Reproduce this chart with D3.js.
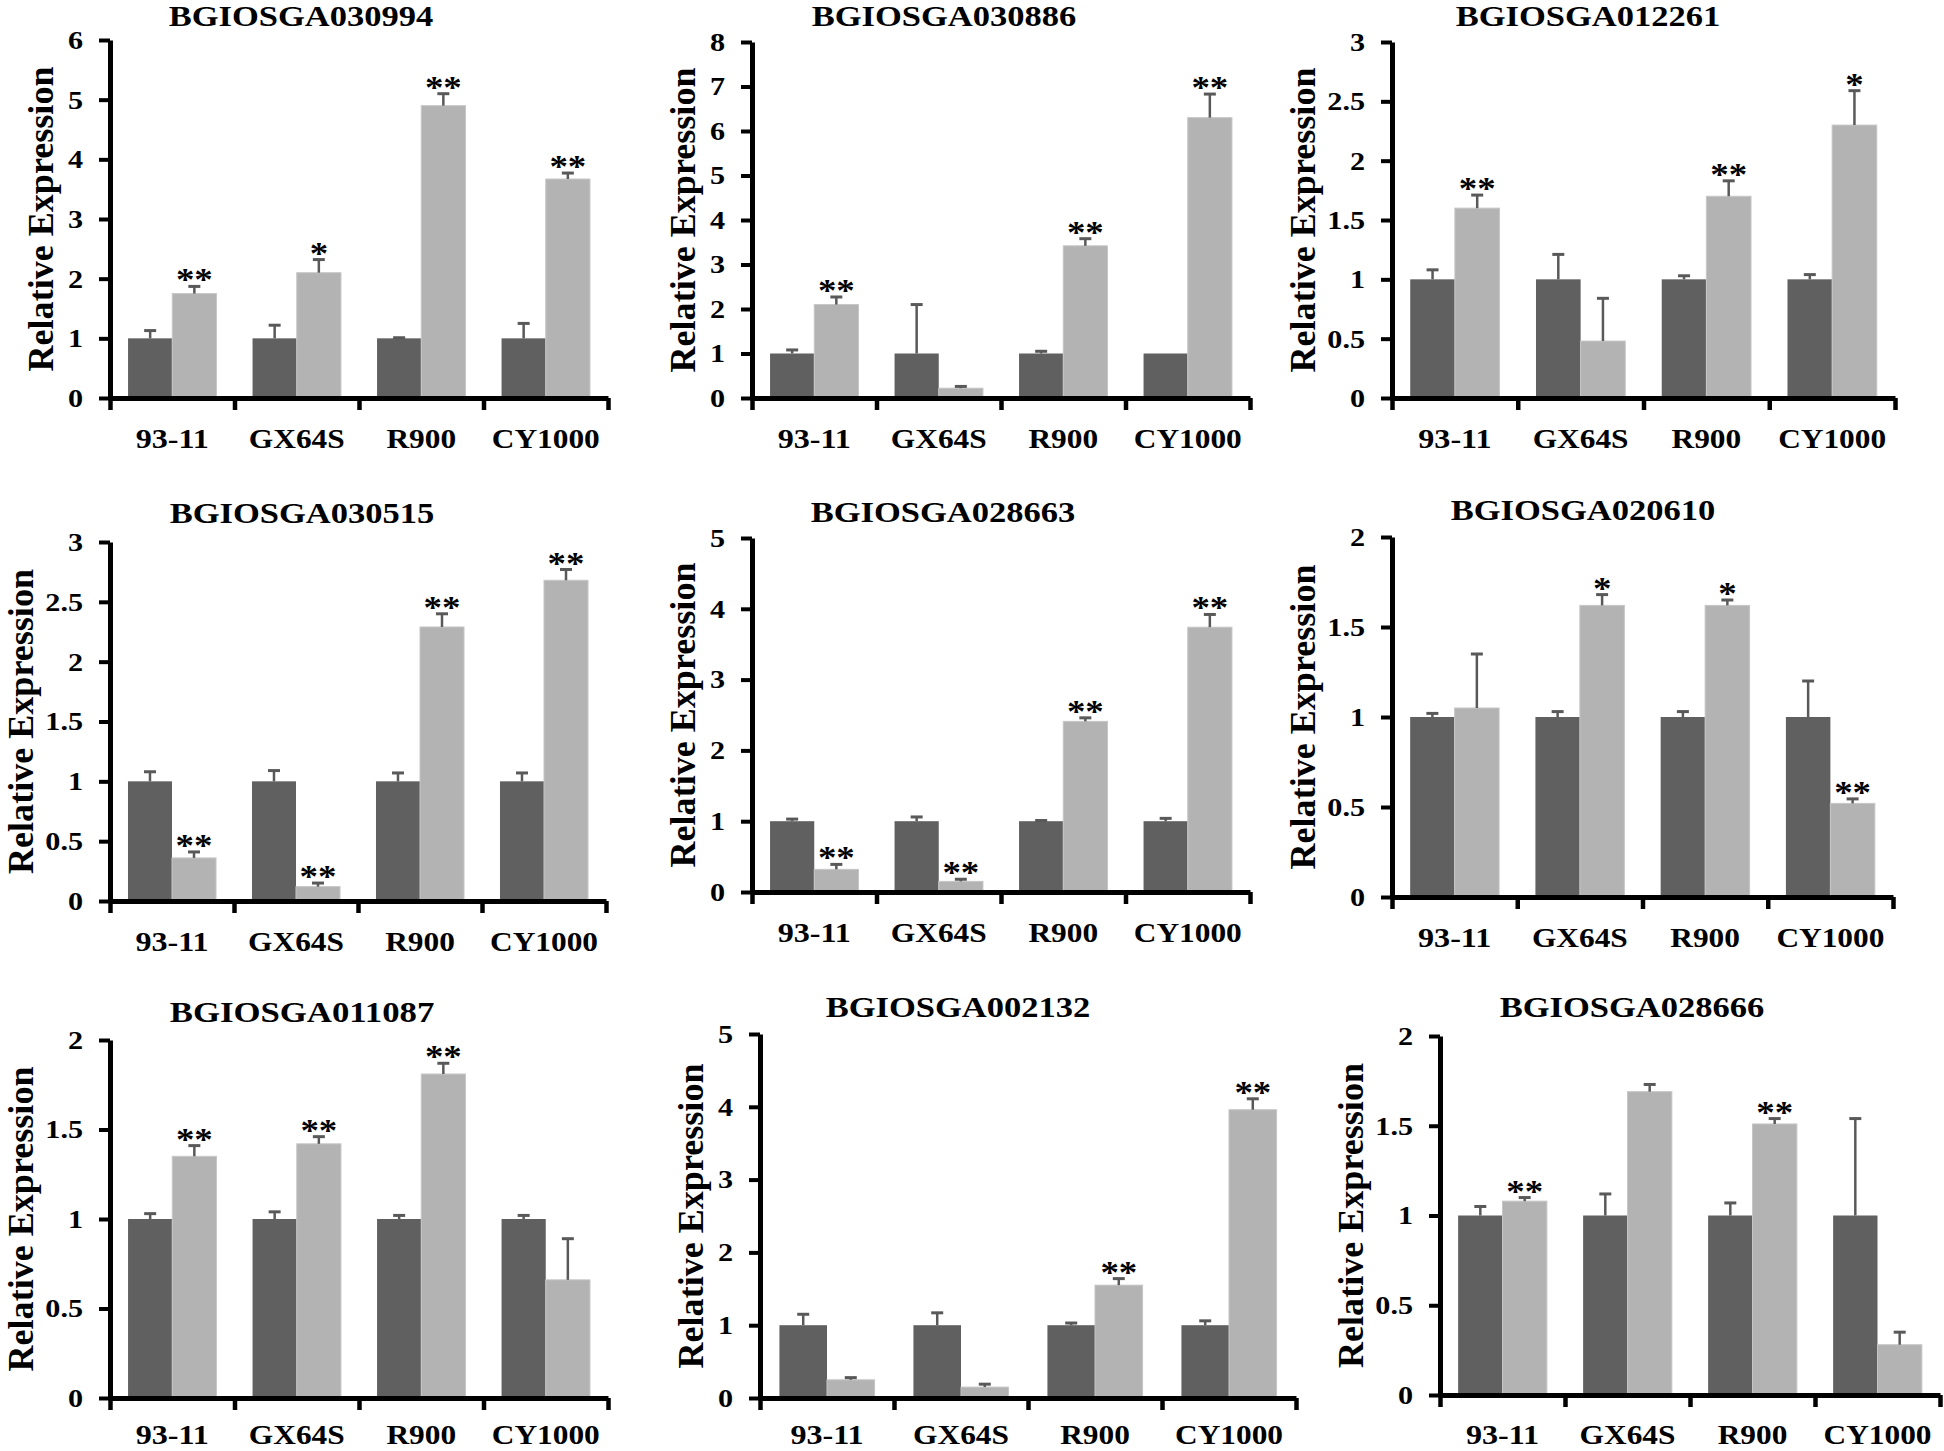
<!DOCTYPE html>
<html><head><meta charset="utf-8">
<script src="https://cdn.jsdelivr.net/npm/d3@7"></script>
<style>body{margin:0;background:#fff}svg{display:block}</style>
</head><body>
<svg id="c" width="1944" height="1451"></svg>
<script>
// ---------------- data ----------------
const genes = ["BGIOSGA030994","BGIOSGA030886","BGIOSGA012261",
               "BGIOSGA030515","BGIOSGA028663","BGIOSGA020610",
               "BGIOSGA011087","BGIOSGA002132","BGIOSGA028666"];
const categories = ["93-11","GX64S","R900","CY1000"];
const series = ["control","treated"];
const yMaxes = [6, 8, 3, 3, 5, 2, 2, 5, 2];
const yTickSteps = [1, 1, 0.5, 0.5, 1, 0.5, 0.5, 1, 0.5];

const controlValues = [
  [1,1,1,1],[1,1,1,1],[1,1,1,1],
  [1,1,1,1],[1,1,1,1],[1,1,1,1],
  [1,1,1,1],[1,1,1,1],[1,1,1,1]
];
const controlErrors = [
  [0.13,0.22,0.01,0.25],
  [0.08,1.10,0.05,0.00],
  [0.08,0.21,0.03,0.04],
  [0.08,0.09,0.07,0.07],
  [0.03,0.06,0.01,0.04],
  [0.02,0.03,0.03,0.20],
  [0.03,0.04,0.02,0.02],
  [0.15,0.17,0.03,0.06],
  [0.05,0.12,0.07,0.54]
];
const treatedValues = [
  [1.75,2.10,4.90,3.67],
  [2.10,0.22,3.42,6.30],
  [1.60,0.48,1.70,2.30],
  [0.36,0.12,2.29,2.68],
  [0.32,0.15,2.41,3.74],
  [1.05,1.62,1.62,0.52],
  [1.35,1.42,1.81,0.66],
  [0.25,0.15,1.55,3.96],
  [1.08,1.69,1.51,0.28]
];
const treatedErrors = [
  [0.12,0.22,0.20,0.10],
  [0.17,0.04,0.16,0.53],
  [0.11,0.36,0.13,0.29],
  [0.05,0.03,0.11,0.09],
  [0.07,0.03,0.05,0.18],
  [0.30,0.06,0.03,0.025],
  [0.06,0.04,0.06,0.23],
  [0.03,0.04,0.09,0.15],
  [0.02,0.04,0.03,0.07]
];
const significance = [
  ["**","*","**","**"],
  ["**","","**","**"],
  ["**","","**","*"],
  ["**","**","**","**"],
  ["**","**","**","**"],
  ["","*","*","**"],
  ["**","**","**",""],
  ["","","**","**"],
  ["**","","**",""]
];
const yLabel = "Relative Expression";

// ---------------- layout (pixels) ----------------
const layout = [
  {l:110, r:608,  t:40,   z:398,  tx:301,  ty:26},
  {l:752, r:1250, t:42,   z:398,  tx:944,  ty:26},
  {l:1392,r:1895, t:42,   z:398,  tx:1588, ty:26},
  {l:110, r:606,  t:542,  z:901,  tx:302,  ty:523},
  {l:752, r:1250, t:538,  z:892,  tx:943,  ty:522},
  {l:1392,r:1893, t:537,  z:897,  tx:1583, ty:520},
  {l:110, r:608,  t:1040, z:1398, tx:302,  ty:1022},
  {l:760, r:1296, t:1034, z:1398, tx:958,  ty:1017},
  {l:1440,r:1940, t:1036, z:1395, tx:1632, ty:1017}
];
const FONT = "'Liberation Serif','Times New Roman',Times,serif";
const colors = {control:"#606060", treated:"#b3b3b3"};
const errColor = "#595959";

// Times-Bold advance widths (em) used to fix text widths independent of the font found
const adv = {"0":.5,"1":.5,"2":.5,"3":.5,"4":.5,"5":.5,"6":.5,"7":.5,"8":.5,"9":.5,
  ".":.25,"-":.333,"*":.5," ":.25,B:.667,G:.778,I:.389,O:.778,S:.556,A:.722,X:.722,
  R:.722,C:.722,Y:.722,E:.667,e:.444,l:.278,a:.5,t:.333,i:.278,v:.5,x:.5,p:.556,
  r:.444,s:.389,o:.5,n:.556};
const emWidth = s => Array.from(s).reduce((a,c) => a + (adv[c] || .5), 0);

const svg = d3.select("#c");

function txt(g, x, y, s, size, stretch, anchor, rot, dy) {
  return g.append("text")
    .attr("transform", `translate(${x},${y}) rotate(${rot||0})`)
    .attr("text-anchor", anchor)
    .attr("dy", dy || 0)
    .attr("textLength", emWidth(s) * size * stretch)
    .attr("lengthAdjust", "spacingAndGlyphs")
    .style("font-family", FONT).style("font-weight", "bold")
    .style("font-size", size + "px").attr("fill", "#000")
    .text(s);
}

genes.forEach((gene, i) => {
  const L = layout[i];
  const g = svg.append("g");
  const y = d3.scaleLinear().domain([0, yMaxes[i]]).range([L.z, L.t]);
  const x0 = d3.scaleBand().domain(categories).range([L.l, L.r]).padding(0);
  const bw = x0.bandwidth();
  const x1 = d3.scaleBand().domain(series).range([bw*0.145, bw*0.855]).padding(0);

  const rows = categories.map((c, k) => ({
    cat: c,
    bars: [
      {s:"control", v:controlValues[i][k], e:controlErrors[i][k], star:""},
      {s:"treated", v:treatedValues[i][k], e:treatedErrors[i][k], star:significance[i][k]}
    ]
  }));

  const grp = g.selectAll("g.grp").data(rows).join("g")
    .attr("transform", d => `translate(${x0(d.cat)},0)`);

  grp.selectAll("rect").data(d => d.bars).join("rect")
    .attr("x", d => x1(d.s)).attr("width", x1.bandwidth())
    .attr("y", d => y(d.v)).attr("height", d => y(0) - y(d.v))
    .attr("fill", d => colors[d.s])
    .attr("stroke", d => d.s === "treated" ? "#c6c6c6" : "none")
    .attr("stroke-width", 1);

  // error bars (upper only)
  const eb = grp.selectAll("g.eb").data(d => d.bars.filter(b => b.e > 0)).join("g");
  eb.append("line")
    .attr("x1", d => x1(d.s) + x1.bandwidth()/2).attr("x2", d => x1(d.s) + x1.bandwidth()/2)
    .attr("y1", d => y(d.v)).attr("y2", d => y(d.v + d.e))
    .attr("stroke", errColor).attr("stroke-width", 2.5);
  eb.append("line")
    .attr("x1", d => x1(d.s) + x1.bandwidth()/2 - 6).attr("x2", d => x1(d.s) + x1.bandwidth()/2 + 6)
    .attr("y1", d => y(d.v + d.e)).attr("y2", d => y(d.v + d.e))
    .attr("stroke", errColor).attr("stroke-width", 3);

  // significance stars
  rows.forEach(r => {
    r.bars.forEach(b => {
      if (!b.star) return;
      txt(g, x0(r.cat) + x1(b.s) + x1.bandwidth()/2, y(b.v + b.e) + 4, b.star, 32, 1.15, "middle");
    });
  });

  // y axis
  const ticks = d3.range(0, yMaxes[i] + 1e-9, yTickSteps[i]);
  const ya = g.append("g").attr("transform", `translate(${L.l},0)`)
    .call(d3.axisLeft(y).tickValues(ticks).tickSize(11).tickSizeOuter(0).tickFormat(""));
  ya.select(".domain").attr("stroke", "#000").attr("stroke-width", 5);
  ya.selectAll(".tick line").attr("stroke", "#000").attr("stroke-width", 4);
  ticks.forEach(t => {
    txt(g, L.l - 27, y(t), d3.format("~g")(t), 26, 1.16, "end", 0, "0.34em");
  });

  // x axis (boundary ticks)
  const xb = d3.scaleLinear().domain([0, categories.length]).range([L.l, L.r]);
  const xa = g.append("g").attr("transform", `translate(0,${L.z})`)
    .call(d3.axisBottom(xb).tickValues(d3.range(0, categories.length + 1)).tickSize(12).tickSizeOuter(0).tickFormat(""));
  xa.select(".domain").attr("stroke", "#000").attr("stroke-width", 5);
  xa.selectAll(".tick line").attr("stroke", "#000").attr("stroke-width", 4.5);
  categories.forEach(c => {
    txt(g, x0(c) + bw/2, Math.min(L.z + 50, 1444), c, 28, 1.12, "middle");
  });

  // titles
  txt(g, L.tx, L.ty, gene, 30, 1.15, "middle");
  const hasDecimals = yTickSteps[i] < 1;
  txt(g, L.l - (hasDecimals ? 90 : 70), (L.t + L.z)/2, yLabel, 36, 1.0, "middle", -90, "0.35em");
});
</script>
</body></html>
